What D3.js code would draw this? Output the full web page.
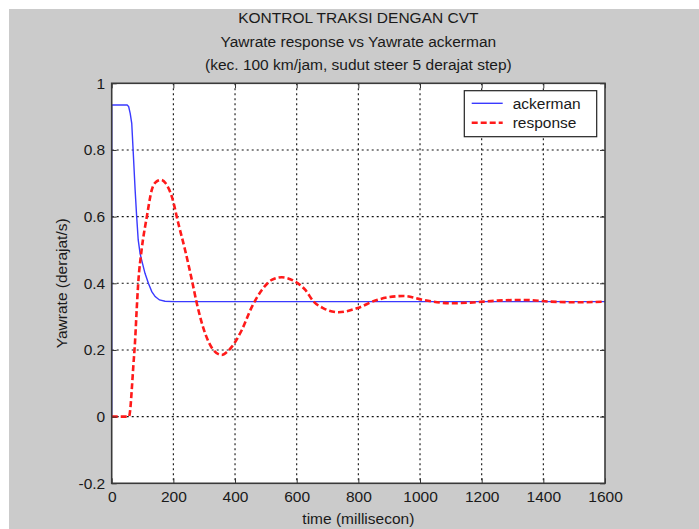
<!DOCTYPE html>
<html>
<head>
<meta charset="utf-8">
<script src="https://cdn.jsdelivr.net/npm/d3@7"></script>
<style>
  body { margin: 0; background: #ffffff; }
  text { font-family: "Liberation Sans", Arial, sans-serif; fill: #1a1a1a; }
</style>
</head>
<body>
<div id="chart"></div>
<script>
var W = 699, H = 529;

// chart values
var titleLines = ["KONTROL TRAKSI DENGAN CVT",
                  "Yawrate response vs Yawrate ackerman",
                  "(kec. 100 km/jam, sudut steer 5 derajat step)"];
var xTicks = [0, 200, 400, 600, 800, 1000, 1200, 1400, 1600];
var yTicks = [-0.2, 0, 0.2, 0.4, 0.6, 0.8, 1];
var seriesNames = ["ackerman", "response"];

var ackermanTime   = [0, 0, 50, 55, 60, 65, 70, 76, 81, 86, 92, 97, 108, 119, 130, 141, 155, 173, 200, 1600];
var ackermanValues = [0, 0.935, 0.935, 0.93, 0.91, 0.88, 0.79, 0.68, 0.60, 0.53, 0.49, 0.47, 0.43, 0.40, 0.375, 0.36, 0.35, 0.346, 0.345, 0.345];

var responseTime   = [0, 56, 60, 65, 70, 76, 81, 86, 97, 114, 130, 145, 160, 175, 195, 216, 238, 260, 276, 303,
                      330, 357, 375, 390, 422, 455, 487, 519, 552, 595, 628, 655, 687, 736, 795, 860, 947, 1012,
                      1098, 1163, 1250, 1337, 1423, 1510, 1600];
var responseValues = [0, 0, 0.02, 0.08, 0.15, 0.23, 0.32, 0.40, 0.50, 0.60, 0.68, 0.705, 0.71, 0.70, 0.66, 0.58, 0.50, 0.41, 0.34, 0.25,
                      0.20, 0.185, 0.195, 0.21, 0.26, 0.33, 0.38, 0.41, 0.418, 0.405, 0.38, 0.345, 0.325, 0.313, 0.325, 0.35, 0.362, 0.35,
                      0.34, 0.342, 0.348, 0.35, 0.345, 0.343, 0.345];

var plotLeft = 111.7, plotRight = 605, plotTop = 83.3, plotBottom = 483.3;
var fontSize = 15.5;
var cBlue = "#3a3aff", cRed = "#ff1a1a", cGrey = "#cbcbcb";

var svg = d3.select("#chart")
	.append("svg")
	.attr("width", W)
	.attr("height", H)

// figure background
svg.append("rect")
	.attr("x", 9).attr("y", 9)
	.attr("width", W - 9).attr("height", H - 9)
	.attr("fill", cGrey)

var x = d3.scaleLinear().domain([0, 1600]).range([plotLeft, plotRight])
var y = d3.scaleLinear().domain([-0.2, 1]).range([plotBottom, plotTop])

svg.append("rect")
	.attr("x", plotLeft).attr("y", plotTop)
	.attr("width", plotRight - plotLeft).attr("height", plotBottom - plotTop)
	.attr("fill", "white")

// dotted grid
var grid = svg.append("g").attr("stroke", "#111").attr("stroke-width", 1.1).attr("stroke-dasharray", "2,3")
grid.selectAll(".vgrid")
	.data(xTicks.slice(1, -1))
	.enter()
	.append("line")
	.attr("x1", function(d){ return x(d) }).attr("x2", function(d){ return x(d) })
	.attr("y1", plotTop).attr("y2", plotBottom)
grid.selectAll(".hgrid")
	.data(yTicks.slice(1, -1))
	.enter()
	.append("line")
	.attr("x1", plotLeft).attr("x2", plotRight)
	.attr("y1", function(d){ return y(d) }).attr("y2", function(d){ return y(d) })

// series
var ackermanData = ackermanTime.map(function(t, i){ return [t, ackermanValues[i]] })
var responseData = responseTime.map(function(t, i){ return [t, responseValues[i]] })

var lineLinear = d3.line()
	.x(function(d){ return x(d[0]) })
	.y(function(d){ return y(d[1]) })
var lineSmooth = d3.line()
	.x(function(d){ return x(d[0]) })
	.y(function(d){ return y(d[1]) })
	.curve(d3.curveMonotoneX)

svg.append("path")
	.datum(ackermanData)
	.attr("d", lineLinear)
	.attr("fill", "none")
	.attr("stroke", cBlue)
	.attr("stroke-width", 1.4)

svg.append("path")
	.datum(responseData)
	.attr("d", lineSmooth)
	.attr("fill", "none")
	.attr("stroke", cRed)
	.attr("stroke-width", 2.6)
	.attr("stroke-dasharray", "6,3")

// axes, ticks pointing inwards
var fmtY = function(d){ return String(+d.toFixed(1)) }
var fmtX = d3.format("d")
var axisStyle = function(g){
	g.select(".domain").remove()
	g.selectAll(".tick line").attr("stroke", "#333")
	g.selectAll("text").attr("font-size", fontSize).attr("fill", "#1a1a1a")
	g.attr("font-family", null).attr("font-size", null)
}
svg.append("g")
	.attr("transform", "translate(0," + plotBottom + ")")
	.call(d3.axisBottom(x).tickValues(xTicks).tickSize(-5).tickPadding(7.5).tickFormat(fmtX))
	.call(axisStyle)
svg.append("g")
	.attr("transform", "translate(0," + plotTop + ")")
	.call(d3.axisTop(x).tickValues(xTicks).tickSize(-5).tickFormat(""))
	.call(axisStyle)
svg.append("g")
	.attr("transform", "translate(" + plotLeft + ",0)")
	.call(d3.axisLeft(y).tickValues(yTicks).tickSize(-5).tickPadding(6.5).tickFormat(fmtY))
	.call(axisStyle)
svg.append("g")
	.attr("transform", "translate(" + plotRight + ",0)")
	.call(d3.axisRight(y).tickValues(yTicks).tickSize(-5).tickFormat(""))
	.call(axisStyle)

svg.append("rect")
	.attr("x", plotLeft).attr("y", plotTop)
	.attr("width", plotRight - plotLeft).attr("height", plotBottom - plotTop)
	.attr("fill", "none")
	.attr("stroke", "#3a3a3a")
	.attr("stroke-width", 1.6)

// titles
svg.selectAll(".title")
	.data(titleLines)
	.enter()
	.append("text")
	.attr("class", "title")
	.attr("x", (plotLeft + plotRight) / 2)
	.attr("y", function(d, i){ return 23 + i * 23.5 })
	.attr("text-anchor", "middle")
	.attr("font-size", fontSize)
	.text(function(d){ return d })

svg.append("text")
	.attr("x", (plotLeft + plotRight) / 2)
	.attr("y", 524)
	.attr("text-anchor", "middle")
	.attr("font-size", fontSize)
	.text("time (millisecon)")

svg.append("text")
	.attr("transform", "translate(67," + (plotTop + plotBottom) / 2 + ") rotate(-90)")
	.attr("text-anchor", "middle")
	.attr("font-size", fontSize)
	.text("Yawrate (derajat/s)")

// legend
var legend = svg.append("g")
legend.append("rect")
	.attr("x", 464.3).attr("y", 90.7)
	.attr("width", 132.4).attr("height", 46)
	.attr("fill", "white")
	.attr("stroke", "#222")
	.attr("stroke-width", 1.2)
var legendStyles = [{"color": cBlue, "width": 1.4, "dash": null},
                    {"color": cRed,  "width": 2.6, "dash": "6,3"}]
legend.selectAll(".legLine")
	.data(seriesNames)
	.enter()
	.append("line")
	.attr("x1", 471.7).attr("x2", 502.7)
	.attr("y1", function(d, i){ return 103.3 + i * 19.4 })
	.attr("y2", function(d, i){ return 103.3 + i * 19.4 })
	.attr("stroke", function(d, i){ return legendStyles[i].color })
	.attr("stroke-width", function(d, i){ return legendStyles[i].width })
	.attr("stroke-dasharray", function(d, i){ return legendStyles[i].dash })
legend.selectAll(".legText")
	.data(seriesNames)
	.enter()
	.append("text")
	.attr("x", 512.7)
	.attr("y", function(d, i){ return 103.3 + i * 19.4 })
	.attr("dy", "0.35em")
	.attr("font-size", fontSize)
	.text(function(d){ return d })
</script>
</body>
</html>
